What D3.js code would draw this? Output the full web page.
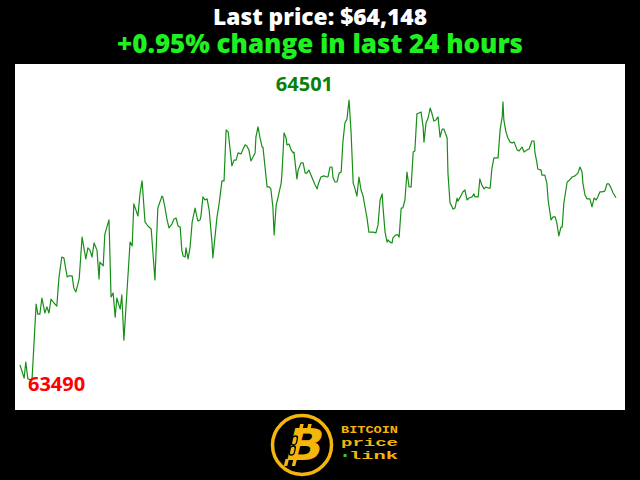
<!DOCTYPE html>
<html>
<head>
<meta charset="utf-8">
<script src="https://cdn.jsdelivr.net/npm/d3@7"></script>
<style>
  body { margin: 0; background: #000; }
  svg { display: block; }
</style>
</head>
<body>
<svg id="chart" width="640" height="480"></svg>
<script>
// minutes since start of the 24h window, and BTC price at that minute
var minutes = [0,10,14,19,29,39,43,48,53,60,65,70,75,82,89,94,101,106,114,118,126,130,135,143,150,159,164,169,174,179,186,191,193,201,205,215,220,225,230,234,242,246,251,266,271,275,285,290,295,302,309,317,326,333,343,345,350,355,360,367,372,377,382,387,391,394,399,401,406,411,416,423,428,430,435,437,442,447,452,457,464,466,476,481,488,493,498,503,507,512,517,522,527,534,539,544,548,553,558,563,568,570,575,580,585,587,592,597,602,606,611,614,619,623,631,633,638,643,645,650,655,660,662,669,672,679,684,689,693,698,703,708,713,718,720,727,734,742,744,749,754,756,761,766,771,776,780,785,790,795,800,805,809,814,819,824,829,834,838,843,853,860,865,870,875,877,882,887,889,894,899,901,908,913,916,921,925,930,935,940,945,950,954,959,964,969,974,976,981,986,991,995,1000,1005,1010,1015,1020,1024,1032,1034,1039,1044,1046,1051,1056,1058,1065,1070,1075,1080,1085,1092,1097,1099,1107,1111,1116,1121,1126,1131,1136,1140,1145,1155,1160,1165,1167,1169,1174,1179,1184,1189,1194,1201,1206,1213,1218,1225,1230,1237,1242,1244,1249,1251,1259,1261,1268,1273,1276,1283,1288,1293,1297,1302,1307,1310,1314,1322,1326,1334,1341,1348,1353,1358,1360,1365,1370,1377,1382,1387,1392,1396,1401,1406,1413,1418,1423,1428,1433,1440];
var prices = [63544,63497,63555,63494,63490,63764,63728,63728,63786,63732,63754,63732,63782,63768,63757,63858,63934,63931,63862,63866,63866,63822,63808,63855,64006,63927,63967,63959,63934,63985,63959,63855,63916,63902,64017,64068,63790,63804,63717,63786,63746,63797,63634,63988,63974,64126,64082,64165,64209,64061,64046,64035,63851,64111,64154,64151,64115,64071,64039,64053,64071,64075,64046,64042,63959,63938,63934,63967,63927,63970,64061,64111,64075,64064,64068,64079,64151,64140,64144,64104,63985,63931,64079,64126,64209,64209,64393,64386,64331,64263,64284,64284,64310,64306,64324,64339,64335,64321,64281,64295,64310,64367,64404,64364,64331,64331,64259,64187,64187,64180,64115,64014,64122,64147,64201,64237,64382,64364,64339,64342,64321,64310,64313,64216,64248,64274,64274,64237,64237,64248,64230,64212,64194,64180,64194,64223,64227,64223,64223,64259,64259,64223,64205,64205,64237,64241,64346,64418,64432,64501,64382,64201,64183,64154,64223,64176,64154,64111,64079,64024,64024,64021,64050,64140,64162,64115,64024,63988,63996,63988,63985,64003,64014,64014,64006,64111,64111,64140,64241,64187,64187,64313,64317,64451,64454,64458,64404,64349,64418,64436,64472,64454,64425,64429,64440,64367,64396,64396,64364,64237,64129,64115,64107,64111,64147,64136,64154,64169,64176,64140,64147,64151,64162,64151,64151,64216,64194,64180,64187,64183,64183,64252,64292,64292,64393,64440,64494,64429,64386,64364,64349,64346,64349,64321,64317,64331,64313,64321,64324,64353,64353,64313,64274,64252,64248,64230,64230,64201,64140,64068,64079,64079,64057,64010,64042,64042,64129,64205,64209,64223,64227,64237,64259,64241,64201,64158,64144,64144,64115,64147,64140,64151,64169,64169,64172,64198,64198,64183,64165,64148];

var titleLines = ["Last price: $64,148", "+0.95% change in last 24 hours"];
var logoWords = ["BITCOIN", "price", "link"];

var data = minutes.map(function(m, i) { return {t: m, p: prices[i]}; });

var svg = d3.select("svg#chart");

// black background
svg.append("rect").attr("width", 640).attr("height", 480).attr("fill", "#000");

// headline
svg.append("text")
    .attr("x", 320).attr("y", 25)
    .attr("text-anchor", "middle")
    .attr("font-family", "'Open Sans', Lato, sans-serif")
    .attr("font-weight", 800)
    .attr("font-size", 23)
    .attr("textLength", 214).attr("lengthAdjust", "spacingAndGlyphs")
    .attr("fill", "#fff")
    .text(titleLines[0]);

svg.append("text")
    .attr("x", 320).attr("y", 53)
    .attr("text-anchor", "middle")
    .attr("font-family", "'Open Sans', Lato, sans-serif")
    .attr("font-weight", 800)
    .attr("font-size", 27)
    .attr("textLength", 406).attr("lengthAdjust", "spacingAndGlyphs")
    .attr("fill", "#1ff01f")
    .text(titleLines[1]);

// plot area
var plot = {left: 15, top: 64, right: 625, bottom: 410};
svg.append("rect")
    .attr("x", plot.left).attr("y", plot.top)
    .attr("width", plot.right - plot.left)
    .attr("height", plot.bottom - plot.top)
    .attr("fill", "#fff");

var minP = d3.min(prices), maxP = d3.max(prices);
var x = d3.scaleLinear()
    .domain(d3.extent(minutes))
    .range([plot.left + 5, plot.right - 9]);
var y = d3.scaleLinear()
    .domain([minP, maxP])
    .range([plot.bottom - 30, plot.top + 36]);

var line = d3.line()
    .x(function(d) { return x(d.t); })
    .y(function(d) { return y(d.p); });

svg.append("path")
    .datum(data)
    .attr("d", line)
    .attr("fill", "none")
    .attr("stroke", "#178f17")
    .attr("stroke-width", 1.2)
    .attr("stroke-linejoin", "round");

var maxPt = data.find(function(d) { return d.p === maxP; });
var minPt = data.find(function(d) { return d.p === minP; });

svg.append("text")
    .attr("x", x(maxPt.t) - 16).attr("y", y(maxPt.p) - 9)
    .attr("text-anchor", "end")
    .attr("font-family", "'Open Sans', sans-serif")
    .attr("font-weight", "bold")
    .attr("font-size", 20)
    .attr("fill", "#0a800a")
    .text(maxP);

svg.append("text")
    .attr("x", x(minPt.t) - 4).attr("y", y(minPt.p) + 11)
    .attr("font-family", "'Open Sans', sans-serif")
    .attr("font-weight", "bold")
    .attr("font-size", 20)
    .attr("fill", "#ff0000")
    .text(minP);

// logo
var gold = "#f4b50c";
var logo = svg.append("g").attr("transform", "translate(302,445)");
logo.append("circle").attr("r", 29.5)
    .attr("fill", "#000").attr("stroke", gold).attr("stroke-width", 3.5);
// bitcoin ticks
[-4, 4].forEach(function(dx) {
  logo.append("rect").attr("x", dx - 3).attr("y", -21).attr("width", 3.5).attr("height", 8)
      .attr("fill", gold).attr("transform", "skewX(-14)");
  logo.append("rect").attr("x", dx - 9).attr("y", 14).attr("width", 3.5).attr("height", 7)
      .attr("fill", gold).attr("transform", "skewX(-14)");
});
logo.append("text")
    .attr("x", 3).attr("y", 15)
    .attr("text-anchor", "middle")
    .attr("font-family", "'DejaVu Sans', sans-serif")
    .attr("font-weight", "bold")
    .attr("font-size", 44)
    .attr("transform", "skewX(-14) scale(1.12,1)")
    .attr("fill", gold)
    .text("B");
// chain link on the B stem
logo.append("rect").attr("x", -11).attr("y", -9).attr("width", 5).attr("height", 9).attr("rx", 2.5)
    .attr("fill", "none").attr("stroke", "#000").attr("stroke-width", 1.3).attr("transform", "skewX(-12)");
logo.append("rect").attr("x", -11).attr("y", 1).attr("width", 5).attr("height", 9).attr("rx", 2.5)
    .attr("fill", "none").attr("stroke", "#000").attr("stroke-width", 1.3).attr("transform", "skewX(-12)");

var words = svg.append("g")
    .attr("font-family", "'Liberation Mono', 'DejaVu Sans Mono', monospace")
    .attr("font-weight", "bold")
    .attr("font-size", 11)
    .attr("fill", gold);
words.append("text").attr("x", 341).attr("y", 433)
    .attr("textLength", 57).attr("lengthAdjust", "spacingAndGlyphs").text(logoWords[0]);
words.append("text").attr("x", 341).attr("y", 446)
    .attr("textLength", 57).attr("lengthAdjust", "spacingAndGlyphs").text(logoWords[1]);
words.append("text").attr("x", 349).attr("y", 459)
    .attr("textLength", 49).attr("lengthAdjust", "spacingAndGlyphs").text(logoWords[2]);
svg.append("rect").attr("x", 343.5).attr("y", 454).attr("width", 3).attr("height", 3).attr("fill", "#33cc33");
</script>
</body>
</html>
